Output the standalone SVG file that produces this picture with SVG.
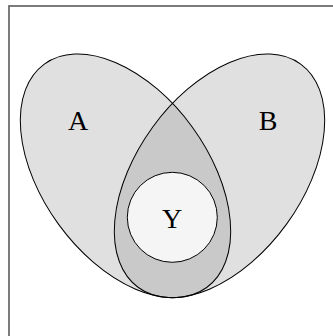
<svg xmlns="http://www.w3.org/2000/svg" width="333" height="336" viewBox="0 0 333 336">
<style>
.set{fill:#e0e0e0;stroke:none}
.outline{fill:none;stroke:#000;stroke-width:1}
.lbl{font-family:"Liberation Serif","Times New Roman",serif;font-size:28px;fill:#000;text-anchor:middle}
</style>
<defs>
<ellipse id="ellA" cx="125.5" cy="175.8" rx="138.1" ry="82.7" transform="rotate(54 125.5 175.8)"/>
<ellipse id="ellB" cx="219.5" cy="175.8" rx="138.1" ry="82.7" transform="rotate(-54 219.5 175.8)"/>
<clipPath id="clipA"><use href="#ellA"/></clipPath>
</defs>
<rect x="9" y="6" width="400" height="400" fill="#fff" stroke="#6e6e6e" stroke-width="1.8"/>
<g id="A">
<use href="#ellA" class="set"/>
</g>
<g id="B">
<use href="#ellB" class="set"/>
</g>
<g id="AB">
<use href="#ellB" fill="#c9c9c9" clip-path="url(#clipA)"/>
</g>
<g id="outlines">
<use href="#ellA" class="outline"/>
<use href="#ellB" class="outline"/>
</g>
<g id="labelA"><text class="lbl" x="78" y="130">A</text></g>
<g id="labelB"><text class="lbl" x="268" y="130">B</text></g>
<g id="Y">
<circle cx="172.3" cy="217.3" r="45" fill="#f5f5f5" stroke="#000" stroke-width="1"/>
<text class="lbl" x="172" y="228">Y</text>
</g>
</svg>
